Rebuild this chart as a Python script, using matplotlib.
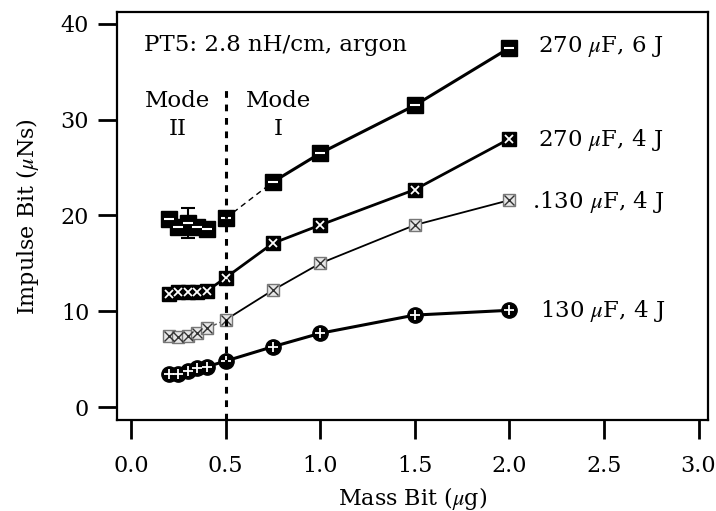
import matplotlib
matplotlib.use('Agg')
import matplotlib.pyplot as plt

plt.rcParams['font.family'] = ['DejaVu Serif']
plt.rcParams['mathtext.fontset'] = 'stix'

# mass bit (ug)
mass = [0.2, 0.25, 0.3, 0.35, 0.4, 0.5, 0.75, 1.0, 1.5, 2.0]

# impulse bit (uNs) for each bank / energy
imp_270_6 = [19.6, 18.8, 19.2, 18.8, 18.6, 19.7, 23.5, 26.5, 31.5, 37.5]
imp_270_4 = [11.8, 12.0, 12.0, 12.0, 12.1, 13.5, 17.1, 19.0, 22.7, 28.0]
imp_130_4a = [7.4, 7.3, 7.4, 7.7, 8.2, 9.1, 12.2, 15.0, 19.0, 21.6]
imp_130_4b = [3.5, 3.5, 3.8, 4.1, 4.2, 4.8, 6.3, 7.7, 9.6, 10.1]

err_270_6 = [0.3, 0.3, 1.6, 0.3, 0.3, 0.3, 0.3, 0.3, 0.3, 0.3]

labels = ['270 $\\mu$F, 6 J', '270 $\\mu$F, 4 J', '.130 $\\mu$F, 4 J', '130 $\\mu$F, 4 J']

fig = plt.figure(figsize=(7.16, 5.11), dpi=100)
ax = fig.add_axes([0.1634, 0.178, 0.8254, 0.7985])

# 270 uF 6 J - dashed link between mode II and mode I
ax.plot(mass[5:7], imp_270_6[5:7], color='black', lw=1.0, ls=(0, (4, 3)))
ax.plot(mass[6:], imp_270_6[6:], color='black', lw=2.2)
ax.errorbar(mass, imp_270_6, yerr=err_270_6, fmt='none', ecolor='black',
            elinewidth=1.5, capsize=5, capthick=1.5)
ax.plot(mass, imp_270_6, ls='none', marker='s', ms=11, mfc='black', mec='black')
ax.plot(mass, imp_270_6, ls='none', marker='_', ms=7, mec='white', mew=1.5)

# 270 uF 4 J
ax.plot(mass[4:], imp_270_4[4:], color='black', lw=2.0)
ax.plot(mass, imp_270_4, ls='none', marker='s', ms=10, mfc='black', mec='black')
ax.plot(mass, imp_270_4, ls='none', marker='x', ms=6, mec='white', mew=1.3)

# 130 uF 4 J (faint series)
ax.plot(mass[4:6], imp_130_4a[4:6], color='#555555', lw=1.0, ls=(0, (3, 2)))
ax.plot(mass[5:], imp_130_4a[5:], color='black', lw=1.3)
ax.plot(mass, imp_130_4a, ls='none', marker='s', ms=9, mfc='#e6e6e6', mec='#777777', mew=1.0)
ax.plot(mass, imp_130_4a, ls='none', marker='x', ms=7, mec='#333333', mew=1.0)

# 130 uF 4 J (circles)
ax.plot(mass[4:], imp_130_4b[4:], color='black', lw=2.2)
ax.plot(mass, imp_130_4b, ls='none', marker='o', ms=11, mfc='black', mec='black')
ax.plot(mass, imp_130_4b, ls='none', marker='+', ms=7, mec='white', mew=1.3)

# mode boundary (stops below the "Mode" labels)
ax.plot([0.5, 0.5], [-1.36, 33.4], color='black', lw=2.2, ls=(0, (2.2, 2.2)))

# series labels
ax.text(2.15, 37.6, labels[0], fontsize=16.5, va='center', ha='left')
ax.text(2.15, 27.9, labels[1], fontsize=16.5, va='center', ha='left')
ax.text(2.12, 21.4, labels[2], fontsize=16.5, va='center', ha='left')
ax.text(2.16, 10.0, labels[3], fontsize=16.5, va='center', ha='left')

ax.text(0.07, 37.8, 'PT5: 2.8 nH/cm, argon', fontsize=16.5, va='center', ha='left')
ax.text(0.245, 30.5, 'Mode\nII', fontsize=16.5, va='center', ha='center', linespacing=1.3)
ax.text(0.78, 30.5, 'Mode\nI', fontsize=16.5, va='center', ha='center', linespacing=1.3)

ax.set_xlim(-0.074, 3.05)
ax.set_ylim(-1.36, 41.25)
ax.set_xticks([0.0, 0.5, 1.0, 1.5, 2.0, 2.5, 3.0])
ax.set_xticklabels(['0.0', '0.5', '1.0', '1.5', '2.0', '2.5', '3.0'])
ax.set_yticks([0, 10, 20, 30, 40])

for s in ax.spines.values():
    s.set_linewidth(1.6)
ax.tick_params(direction='out', length=14, width=2.0, labelsize=16)
ax.tick_params(axis='x', pad=11)
ax.tick_params(axis='y', pad=6)

ax.set_xlabel('Mass Bit ($\\mu$g)', fontsize=16)
ax.set_ylabel('Impulse Bit ($\\mu$Ns)', fontsize=16)
ax.xaxis.set_label_coords(0.5, -0.16)
ax.yaxis.set_label_coords(-0.128, 0.5)

fig.savefig('out.png', dpi=100)
